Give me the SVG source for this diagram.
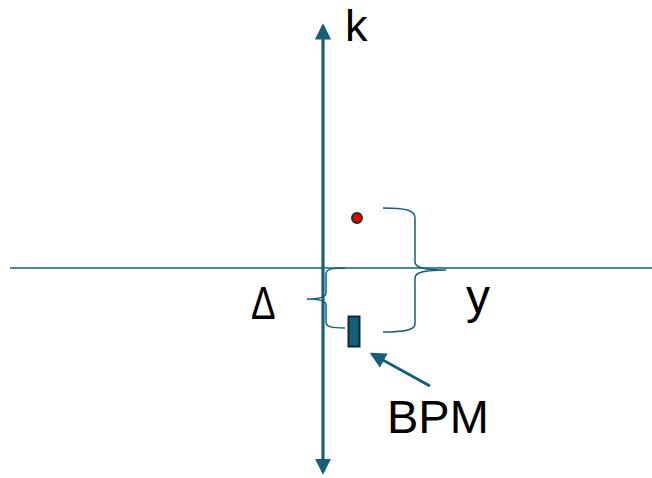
<svg xmlns="http://www.w3.org/2000/svg" width="652" height="478" viewBox="0 0 652 478">
<defs>
<style>
.ax{stroke:#145f7c;fill:none}
.br{stroke:#145f7c;fill:none;stroke-width:1.5}
.t{font-family:"Liberation Sans",Arial,sans-serif;fill:#000}
</style>
<marker id="ah" markerWidth="6" markerHeight="6" refX="5" refY="3" orient="auto" markerUnits="strokeWidth"><path d="M0,0 L6,3 L0,6 Z" fill="#145f7c"/></marker>
</defs>
<g id="connectors">
<line class="ax" x1="10" y1="268" x2="652" y2="268" stroke-width="1.3"/>
<line class="ax" x1="323" y1="470" x2="323" y2="26" stroke-width="2.7" marker-end="url(#ah)"/>
<line class="ax" x1="323" y1="40" x2="323" y2="472" stroke-width="2.7" marker-end="url(#ah)"/>
<line class="ax" x1="430" y1="386" x2="372" y2="354" stroke-width="2.7" marker-end="url(#ah)"/>
<path class="br" d="M383,208 C405,208 415,210 415,218 L415,262 C415,268 425,270 446,270 C425,270 415,272 415,278 L415,324 C415,330 405,332 383,332"/>
<path class="br" d="M345,268 C332,268 326,269 326,274 L326,293 C326,297 320,299 307,299 C320,299 326,301 326,305 L326,322 C326,327 332,328 345,328"/>
</g>
<g id="dot"><circle cx="357" cy="218" r="5" fill="#e00" stroke="#1a2a33" stroke-width="2"/></g>
<g id="bpm"><rect x="348.5" y="316.5" width="11" height="30" fill="#145f7c" stroke="#0d2a36" stroke-width="2"/></g>
<g id="labels">
<text class="t" x="345" y="41" font-size="45">k</text>
<text class="t" font-size="46" transform="translate(251,319) scale(0.8,1)">Δ</text>
<text class="t" x="466" y="313" font-size="48">y</text>
<text class="t" x="387" y="433" font-size="47">BPM</text>
</g>
</svg>
